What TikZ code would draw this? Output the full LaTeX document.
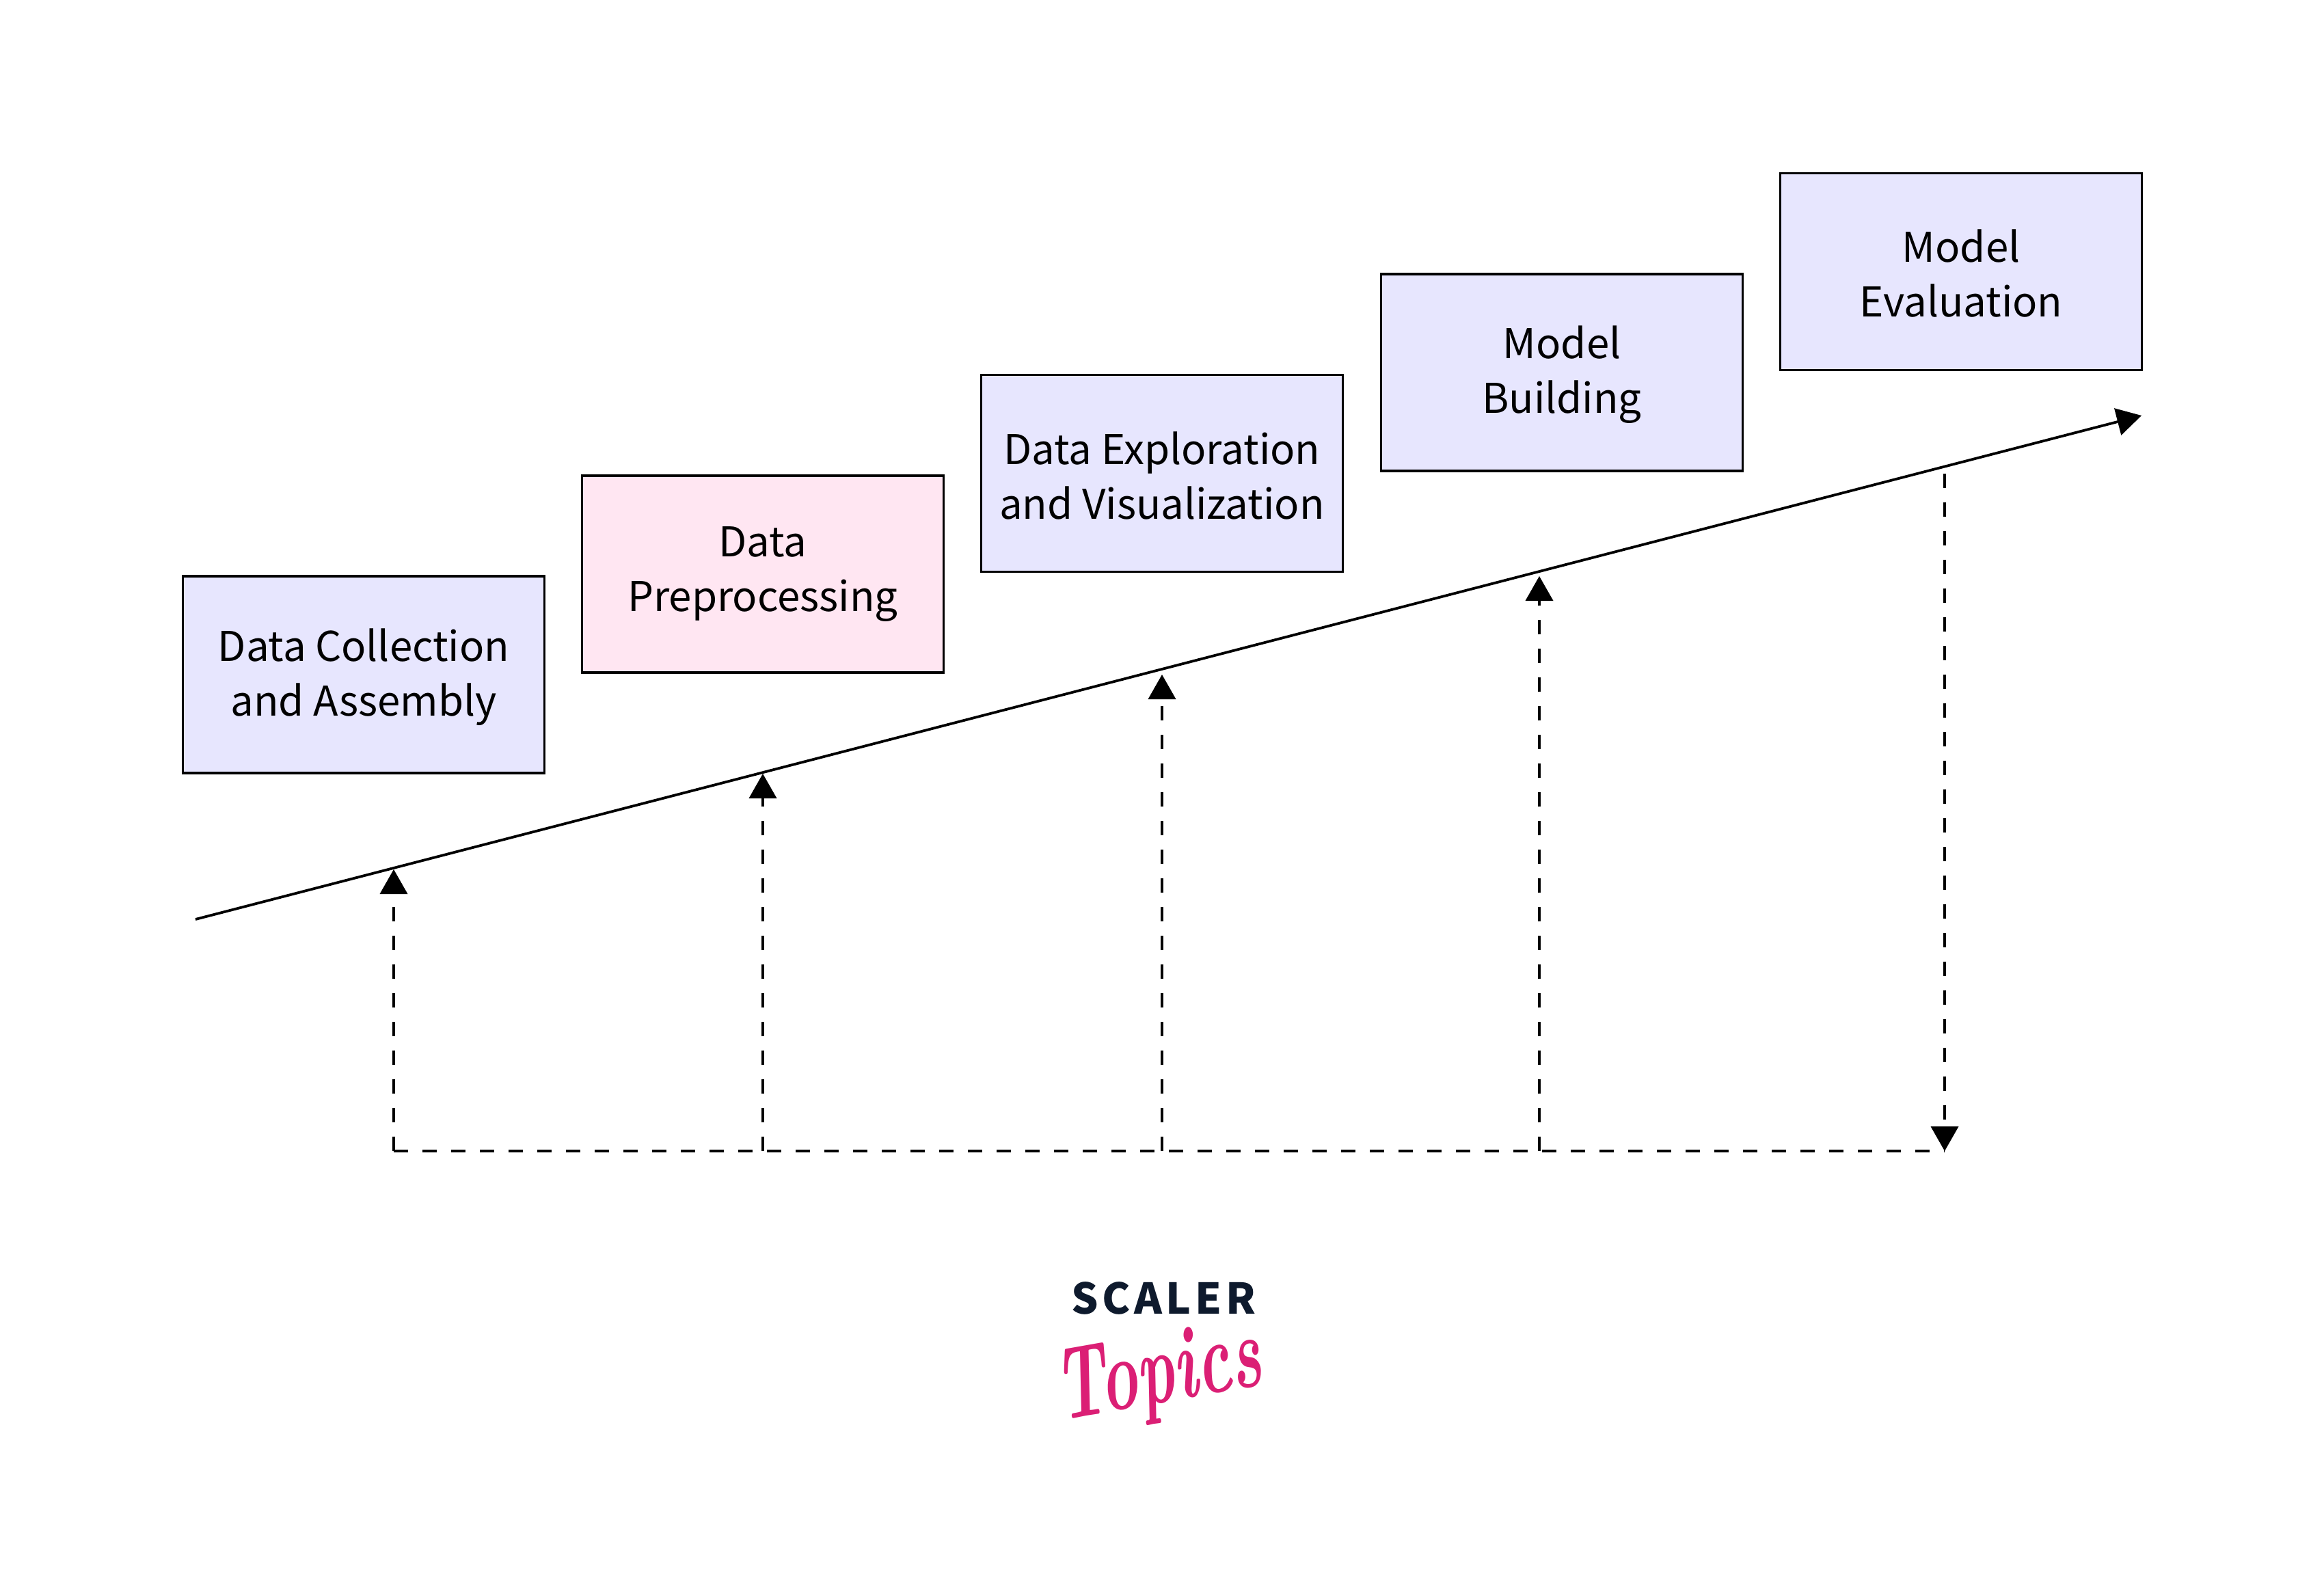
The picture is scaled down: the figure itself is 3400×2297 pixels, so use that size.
\documentclass[tikz,border=0pt]{standalone}
\usepackage{fontspec}
\setmainfont{Noto Sans CJK SC}
\usetikzlibrary{arrows.meta}
\definecolor{boxblue}{HTML}{E7E6FE}
\definecolor{boxpink}{HTML}{FFE6F2}
\definecolor{logodark}{HTML}{0E1A2D}
\definecolor{logopink}{HTML}{DB1F75}
\newcommand{\lowered}[1]{\rule{0pt}{#1}}
\tikzset{
  stage/.style={draw=black,line width=1.9pt,fill=boxblue,minimum width=264.5pt,minimum height=144pt,inner sep=0pt,align=center,font=\fontsize{30}{40}\selectfont},
  stagepink/.style={stage,fill=boxpink},
  tip/.style={-{Triangle[length=18pt,width=20.5pt,line width=0pt]}},
  mainline/.style={line width=1.9pt,tip},
  dashline/.style={line width=2pt,dash pattern=on 10.5pt off 10.5pt},
  dasharrow/.style={dashline,tip},
}
\begin{document}
\begin{tikzpicture}[x=0.5pt,y=-0.5pt]
\useasboundingbox (0,0) rectangle (3400,2297);
\node[stage] (b1) at (532,987) {\lowered{28pt}Data Collection\\and Assembly};
\node[stagepink] (b2) at (1116,840) {Data\\Preprocessing};
\node[stage] (b3) at (1700,692.5) {\lowered{27.5pt}Data Exploration\\and Visualization};
\node[stage] (b4) at (2285,545) {\lowered{27pt}Model\\Building};
\node[stage] (b5) at (2869,397.5) {\lowered{26pt}Model\\Evaluation};
\coordinate (ls) at (286,1345);
\coordinate (le) at (3133,608);
\draw[mainline] (ls) -- (le);
\coordinate (t1) at (576,1272);
\coordinate (t2) at (1116,1132);
\coordinate (t3) at (1700,987);
\coordinate (t4) at (2252,843);
\coordinate (s5) at (2845,693);
\coordinate (e5) at (2845,1684);
\coordinate (f1) at (576,1684);
\coordinate (f2) at (1116,1684);
\coordinate (f3) at (1700,1684);
\coordinate (f4) at (2252,1684);
\draw[dasharrow] (f1) -- (t1);
\draw[dasharrow] (f2) -- (t2);
\draw[dasharrow] (f3) -- (t3);
\draw[dasharrow] (f4) -- (t4);
\draw[dasharrow] (s5) -- (e5);
\draw[dashline] (f1) -- (e5);
\node[inner sep=0pt,text=logodark] (scaler) at (1702,1899) {\bfseries\fontsize{31}{31}\selectfont\addfontfeature{LetterSpace=9}SCALER};
\node[inner sep=0pt,text=logopink,rotate=10,xscale=0.8,yscale=1.3,transform shape] (topics) at (1695,2016) {\fontsize{58}{58}\selectfont\fontspec{Latin Modern Roman}\bfseries\itshape Topics};
\end{tikzpicture}
\end{document}
